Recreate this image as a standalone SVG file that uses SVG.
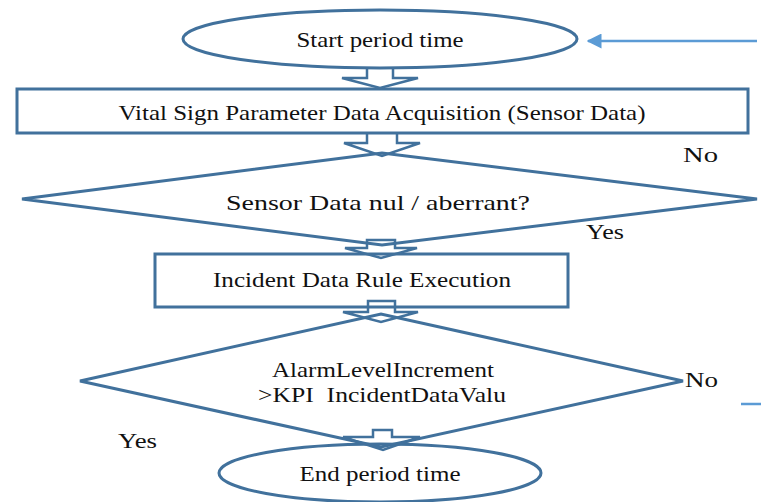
<svg xmlns="http://www.w3.org/2000/svg" width="761" height="502" viewBox="0 0 761 502">
  <style>
    .shape { fill: none; stroke: #41719C; stroke-width: 3; }
    .barrow { fill: none; stroke: #41719C; stroke-width: 2.5; stroke-linejoin: miter; }
    .lbl { font-family: "Liberation Serif", "Times New Roman", serif; font-size: 21px; fill: #111; white-space: pre; }
    .mid { text-anchor: middle; }
    .feed { stroke: #5B9BD5; stroke-width: 2.5; fill: none; }
  </style>
  <defs>
    <marker id="feedHead" viewBox="0 0 10 10" refX="9" refY="5" markerWidth="6" markerHeight="6" orient="auto">
      <path d="M0,0 L10,5 L0,10 Z" fill="#5B9BD5"/>
    </marker>
  </defs>
  <rect width="761" height="502" fill="#fff"/>

  <g id="start">
    <ellipse class="shape" cx="380" cy="39" rx="197" ry="29"/>
    <text class="lbl mid" x="380" y="47" textLength="167" lengthAdjust="spacingAndGlyphs">Start period time</text>
  </g>

  <g id="acquire">
    <rect class="shape" x="17" y="89" width="731" height="44"/>
    <text class="lbl mid" x="382" y="120" textLength="527" lengthAdjust="spacingAndGlyphs">Vital Sign Parameter Data Acquisition (Sensor Data)</text>
  </g>

  <g id="check-null">
    <polygon class="shape" points="22,199 382,153 757,199 382,245"/>
    <text class="lbl mid" x="378" y="210" textLength="304" lengthAdjust="spacingAndGlyphs">Sensor Data nul / aberrant?</text>
  </g>

  <g id="rule">
    <rect class="shape" x="155" y="254" width="413" height="53"/>
    <text class="lbl mid" x="362" y="287" textLength="298" lengthAdjust="spacingAndGlyphs">Incident Data Rule Execution</text>
  </g>

  <g id="check-kpi">
    <polygon class="shape" points="80,381 381,314 683,381 381,447"/>
    <text class="lbl mid" x="383" y="377" textLength="222" lengthAdjust="spacingAndGlyphs">AlarmLevelIncrement</text>
    <text class="lbl mid" x="382" y="402" textLength="248" lengthAdjust="spacingAndGlyphs">&gt;KPI&#160;&#160;IncidentDataValu</text>
  </g>

  <g id="end">
    <ellipse class="shape" cx="380" cy="473" rx="161" ry="29"/>
    <text class="lbl mid" x="380" y="481" textLength="161" lengthAdjust="spacingAndGlyphs">End period time</text>
  </g>

  <g id="connectors">
    <!-- block arrows between steps -->
    <path class="barrow" d="M367,68 V78 H342 L380,88 L418,78 H393 V68"/>
    <path class="barrow" d="M367,134 V143 H344 L382,156 L420,143 H397 V134"/>
    <path class="barrow" d="M367,248 V240 H395 V248 H417 L381,258 L345,248 Z"/>
    <path class="barrow" d="M368,312 V301 H395 V312 H418 L381,322 L343,312 Z"/>
    <path class="barrow" d="M373,437 V430 H392 V437 H420 L383,450 L343,437 Z"/>
    <!-- loop-back feed into start -->
    <line class="feed" x1="757" y1="41" x2="588" y2="41" marker-end="url(#feedHead)"/>
    <line class="feed" x1="741" y1="404" x2="761" y2="404"/>
    <!-- branch labels -->
    <text class="lbl" x="683" y="162" textLength="35" lengthAdjust="spacingAndGlyphs">No</text>
    <text class="lbl" x="586" y="239" textLength="38" lengthAdjust="spacingAndGlyphs">Yes</text>
    <text class="lbl" x="685" y="387" textLength="33" lengthAdjust="spacingAndGlyphs">No</text>
    <text class="lbl" x="118" y="448" textLength="39" lengthAdjust="spacingAndGlyphs">Yes</text>
  </g>
</svg>
